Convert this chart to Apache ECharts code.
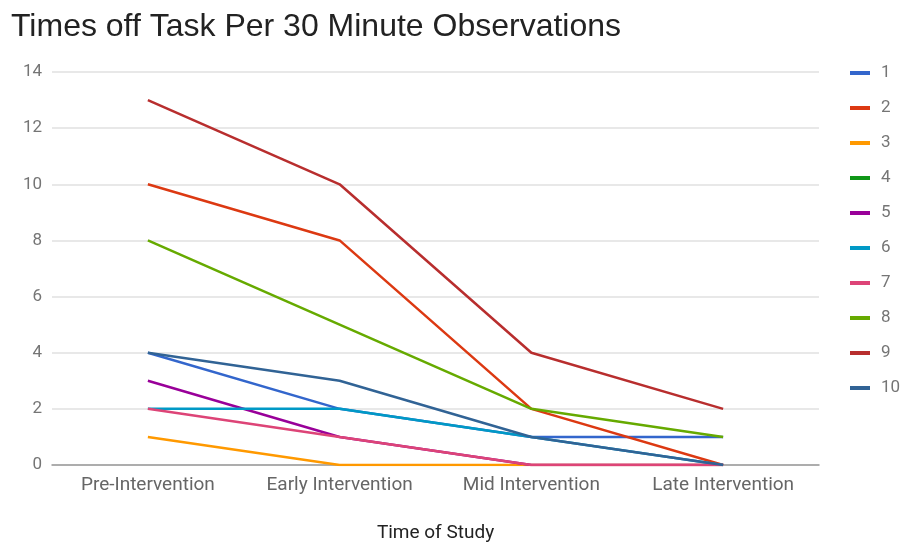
<!DOCTYPE html>
<html>
<head>
<meta charset="utf-8">
<script src="https://cdn.jsdelivr.net/npm/echarts@6/dist/echarts.min.js"></script>
<style>
  html, body { margin: 0; padding: 0; background: #fff; overflow: hidden; }
  #chart { width: 908px; height: 548px; }
</style>
</head>
<body>
<div id="chart"></div>
<script>
// Study phases along the x axis
const phases = ['Pre-Intervention', 'Early Intervention', 'Mid Intervention', 'Late Intervention'];

// Times off task for each student, per phase (student 4 has no recorded line)
const s1  = [4, 2, 1, 1];
const s2  = [10, 8, 2, 0];
const s3  = [1, 0, 0, 0];
const s4  = [null, null, null, null];
const s5  = [3, 1, 0, 0];
const s6  = [2, 2, 1, 0];
const s7  = [2, 1, 0, 0];
const s8  = [8, 5, 2, 1];
const s9  = [13, 10, 4, 2];
const s10 = [4, 3, 1, 0];

// Y axis tick range
const yMin = 0;
const yMax = 14;
const yStep = 2;

const studentNames = ['1', '2', '3', '4', '5', '6', '7', '8', '9', '10'];
const studentValues = [s1, s2, s3, s4, s5, s6, s7, s8, s9, s10];
const palette = ['#3366cc', '#dc3912', '#ff9900', '#109618', '#990099',
                 '#0099c6', '#dd4477', '#66aa00', '#b82e2e', '#316395'];

const chart = echarts.init(document.getElementById('chart'));

chart.setOption({
  animation: false,
  color: palette,
  title: {
    text: 'Times off Task Per 30 Minute Observations',
    left: 6,
    top: 6,
    textStyle: {
      fontFamily: 'Liberation Sans',
      fontWeight: 'normal',
      fontSize: 32,
      color: '#222'
    }
  },
  legend: {
    orient: 'vertical',
    left: 845,
    top: 59,
    itemGap: 17,
    itemWidth: 20,
    itemHeight: 14,
    icon: 'path://M0,5 L20,5 L20,9 L0,9 Z',
    data: studentNames,
    textStyle: {
      fontFamily: 'Roboto',
      fontSize: 17,
      lineHeight: 18,
      padding: [0, 0, 0, 6],
      color: '#757575'
    }
  },
  grid: {
    left: 52,
    right: 89,
    top: 72,
    bottom: 76,
    containLabel: false
  },
  xAxis: {
    type: 'category',
    data: phases,
    boundaryGap: true,
    name: 'Time of Study',
    nameLocation: 'middle',
    nameGap: 59,
    nameTextStyle: {
      fontFamily: 'Roboto',
      fontSize: 19,
      color: '#222'
    },
    axisLine: { lineStyle: { color: '#999', width: 1.5 } },
    axisTick: { show: false },
    axisLabel: {
      margin: 11,
      fontFamily: 'Roboto',
      fontSize: 19,
      color: '#666'
    }
  },
  yAxis: {
    type: 'value',
    min: yMin,
    max: yMax,
    interval: yStep,
    axisLine: { show: false },
    axisTick: { show: false },
    axisLabel: {
      margin: 10,
      fontFamily: 'Roboto',
      fontSize: 17,
      color: '#757575'
    },
    splitLine: { lineStyle: { color: '#e0e0e0', width: 1.5 } }
  },
  series: studentNames.map((name, i) => ({
    name: name,
    type: 'line',
    data: studentValues[i],
    showSymbol: false,
    symbol: 'none',
    lineStyle: { width: 2.5 }
  }))
});
</script>
</body>
</html>
